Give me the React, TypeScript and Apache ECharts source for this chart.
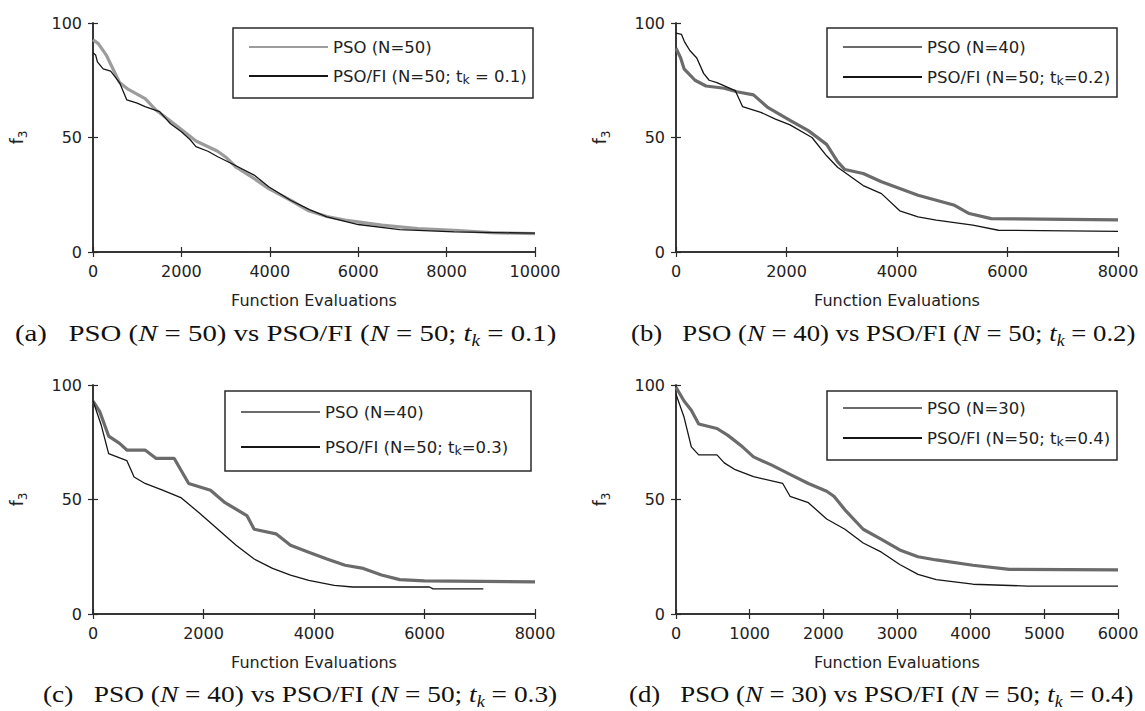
import React, { useEffect, useRef } from "react";
import * as echarts from "echarts";

// ---------- data (function evaluations, f3) ----------
const psoA = [[0,92.7],[120,91],[300,86],[450,80],[600,74],[800,71],[1180,67],[1424,62],[1700,58],[2000,53.5],[2330,48.5],[2820,44],[3000,41.5],[3240,37],[3650,32],[3975,27.7],[4470,22.6],[4880,18],[5290,15.5],[5700,13.9],[6530,11.7],[7350,10.2],[8170,9.5],[9000,8.5],[10000,8]];
const fiA = [[0,87],[60,86],[100,83],[230,80],[400,79],[600,74],[765,66.4],[1000,65],[1177,63.5],[1506,61.3],[1753,56],[2000,52.5],[2200,49],[2329,46],[2600,44],[2823,41.6],[3200,38],[3646,33.6],[3975,28.5],[4469,22.6],[4900,18.5],[5292,15.3],[6000,12],[6938,9.8],[8173,8.8],[10000,8.2]];

const psoB = [[0,89],[80,85],[146,80],[344,75],[543,72.5],[873,71.5],[1100,70],[1403,68.6],[1667,63],[2064,57.5],[2395,53],[2726,47],[2924,39.5],[3057,36],[3388,34.3],[3719,30.7],[4050,27.7],[4380,24.8],[4711,22.6],[5042,20.4],[5307,16.8],[5704,14.6],[8000,14]];
const fiB = [[0,95.6],[100,95],[150,92],[250,88],[376,84.7],[500,78],[600,75],[741,74],[1072,70.5],[1204,63.5],[1535,61],[1800,58],[2064,55.5],[2461,50],[2726,42],[2924,37],[3388,29],[3719,25.5],[4050,18],[4380,15.3],[4711,13.9],[5373,11.7],[5836,9.5],[8000,9]];

const psoC = [[0,93],[120,88.5],[283,77.7],[481,74.5],[612,71.6],[942,71.6],[1139,68],[1468,68],[1732,57],[2127,54],[2390,48.6],[2785,43],[2917,37],[3312,35],[3575,30],[3905,27],[4234,24],[4563,21.3],[4892,19.9],[5221,17],[5551,15],[6000,14.5],[8000,14]];
const fiC = [[0,93],[150,82.4],[283,70],[612,67],[744,59.8],[942,57],[1270,54],[1600,50.7],[1930,44],[2260,37],[2590,30],[2917,24],[3250,19.9],[3575,17],[3905,14.7],[4366,12.5],[4700,11.8],[6090,11.8],[6155,11],[7065,11]];

const psoD = [[0,99],[109,93],[208,89],[308,83],[556,81],[705,78],[903,73],[1052,68.6],[1300,65],[1548,61],[1797,57],[2045,53.6],[2144,51.4],[2293,45.5],[2541,37],[2789,32.6],[3037,28],[3285,25],[3533,23.6],[4030,21.3],[4526,19.5],[6000,19.3]];
const fiD = [[0,96],[109,86],[208,73],[308,69.5],[556,69.5],[655,66],[804,63],[1052,60],[1449,57],[1548,51.4],[1797,48.6],[2045,41.5],[2293,37],[2541,31],[2789,27],[3037,21.6],[3285,17.3],[3533,15],[4030,13],[4774,12.2],[6000,12.2]];

const psoNames = ["PSO (N=50)", "PSO (N=40)", "PSO (N=40)", "PSO (N=30)"];
const fiNames = ["PSO/FI (N=50; tk = 0.1)", "PSO/FI (N=50; tk=0.2)", "PSO/FI (N=50; tk=0.3)", "PSO/FI (N=50; tk=0.4)"];
const xMax = [10000, 8000, 8000, 6000];
const xInterval = [2000, 2000, 2000, 1000];
const yTicks = [0, 50, 100];
const captionLetters = ["(a)", "(b)", "(c)", "(d)"];
const captionPso = ["50", "40", "40", "30"];
const captionTk = ["0.1", "0.2", "0.3", "0.4"];

const psoData = [psoA, psoB, psoC, psoD];
const fiData = [fiA, fiB, fiC, fiD];

// ---------- layout ----------
const SANS = "DejaVu Sans";
const SERIF = "Liberation Serif";
const grids = [
  { left: 93, top: 23, width: 442, height: 229 },
  { left: 676, top: 23, width: 442, height: 229 },
  { left: 93, top: 385, width: 442, height: 229 },
  { left: 676, top: 385, width: 442, height: 229 },
];
const legendPos = [
  { left: 248, top: 37, gap: 9 },
  { left: 842, top: 37, gap: 10 },
  { left: 240, top: 402, gap: 15 },
  { left: 842, top: 398, gap: 10 },
];
const legendBoxes = [
  { x: 233, y: 28, w: 300, h: 70 },
  { x: 827, y: 28, w: 290, h: 69 },
  { x: 225, y: 391, w: 306, h: 80 },
  { x: 827, y: 391, w: 290, h: 69 },
];
const captionPos = [
  { x: 15, y: 333, sx: 1.2 },
  { x: 631, y: 333, sx: 1.115 },
  { x: 43, y: 694, sx: 1.14 },
  { x: 629, y: 694, sx: 1.115 },
];
const psoColors = ["#9c9c9c", "#6b6b6b", "#6b6b6b", "#6b6b6b"];

const AX = "#2a2a2a";
const TXT = "#222";

function buildOption() {
  const xAxis: any[] = [];
  const yAxis: any[] = [];
  const series: any[] = [];
  const legend: any[] = [];
  const graphic: any[] = [];
  const plain = (v: number) => String(v);

  grids.forEach((g, i) => {
    xAxis.push({
      type: "value", gridIndex: i, min: 0, max: xMax[i], interval: xInterval[i],
      position: "bottom",
      name: "Function Evaluations", nameLocation: "middle", nameGap: 40,
      nameTextStyle: { fontFamily: SANS, fontSize: 16, color: TXT },
      axisLine: { show: true, lineStyle: { color: AX, width: 1.5 } },
      axisTick: { show: true, inside: true, length: 5, lineStyle: { color: AX, width: 1.2 } },
      axisLabel: { show: true, margin: 11, fontFamily: SANS, fontSize: 16, color: TXT, formatter: plain },
      splitLine: { show: false },
    });
    xAxis.push({
      type: "value", gridIndex: i, min: 0, max: xMax[i], interval: xInterval[i],
      position: "top",
      axisLine: { show: true, lineStyle: { color: AX, width: 1.5 } },
      axisTick: { show: true, inside: true, length: 5, lineStyle: { color: AX, width: 1.2 } },
      axisLabel: { show: false },
      splitLine: { show: false },
    });
    yAxis.push({
      type: "value", gridIndex: i, min: yTicks[0], max: yTicks[yTicks.length - 1], interval: 50,
      position: "left",
      name: "{f|f}{s|3}", nameLocation: "middle", nameGap: 64, nameRotate: 90,
      nameTextStyle: {
        fontFamily: SANS, fontSize: 16, color: TXT,
        rich: {
          f: { fontFamily: SANS, fontSize: 17, color: TXT, lineHeight: 24 },
          s: { fontFamily: SANS, fontSize: 12, color: TXT, lineHeight: 12, verticalAlign: "bottom" },
        },
      },
      axisLine: { show: true, lineStyle: { color: AX, width: 1.5 } },
      axisTick: { show: true, inside: true, length: 5, lineStyle: { color: AX, width: 1.2 } },
      axisLabel: { show: true, margin: 11, fontFamily: SANS, fontSize: 16, color: TXT, formatter: plain },
      splitLine: { show: false },
    });
    yAxis.push({
      type: "value", gridIndex: i, min: 0, max: 100, interval: 50,
      position: "right",
      axisLine: { show: true, lineStyle: { color: AX, width: 1.5 } },
      axisTick: { show: true, inside: true, length: 5, lineStyle: { color: AX, width: 1.2 } },
      axisLabel: { show: false },
      splitLine: { show: false },
    });

    series.push({
      type: "line", name: psoNames[i], xAxisIndex: i * 2, yAxisIndex: i * 2,
      data: psoData[i], symbol: "none", z: 2,
      lineStyle: { color: psoColors[i], width: 3.2 }, itemStyle: { color: psoColors[i] },
    });
    series.push({
      type: "line", name: fiNames[i], xAxisIndex: i * 2, yAxisIndex: i * 2,
      data: fiData[i], symbol: "none", z: 3,
      lineStyle: { color: "#161616", width: 1.3 }, itemStyle: { color: "#161616" },
    });

    const lp = legendPos[i];
    legend.push({
      orient: "vertical", left: lp.left, top: lp.top, padding: 0,
      itemWidth: 79, itemHeight: 20, itemGap: lp.gap,
      data: [psoNames[i], fiNames[i]],
      selectedMode: false, z: 10,
      itemStyle: { opacity: 0 },
      textStyle: {
        fontFamily: SANS, fontSize: 16.5, color: TXT, lineHeight: 20,
        rich: {
          n: { fontFamily: SANS, fontSize: 16.5, color: TXT, lineHeight: 20 },
          s: { fontFamily: SANS, fontSize: 12.5, color: TXT, lineHeight: 13, verticalAlign: "bottom" },
        },
      },
      formatter: (name: string) => {
        const k = name.indexOf("tk");
        if (k < 0) return `{n|${name}}`;
        return `{n|${name.slice(0, k)}t}{s|k}{n|${name.slice(k + 2)}}`;
      },
    });

    const b = legendBoxes[i];
    graphic.push({
      type: "rect", z: 8,
      shape: { x: b.x, y: b.y, width: b.w, height: b.h },
      style: { fill: "#fff", stroke: AX, lineWidth: 1.5 },
    });

    const c = captionPos[i];
    const rr = (f: string) => ({ fontFamily: SERIF, fontSize: 24, fill: "#111", color: "#111", fontStyle: f, lineHeight: 32 });
    graphic.push({
      type: "text", z: 8, x: c.x, y: c.y, scaleX: c.sx,
      style: {
        text: `{r|${captionLetters[i]}   PSO (}{i|N}{r| = ${captionPso[i]}) vs PSO/FI (}{i|N}{r| = 50; }{i|t}{s|k}{r| = ${captionTk[i]})}`,
        verticalAlign: "middle", align: "left",
        fontFamily: SERIF, fontSize: 24, fill: "#111",
        rich: {
          r: rr("normal"),
          i: rr("italic"),
          s: { fontFamily: SERIF, fontSize: 16, fill: "#111", color: "#111", fontStyle: "italic", lineHeight: 16, verticalAlign: "bottom" },
        },
      },
    });
  });

  return {
    animation: false,
    backgroundColor: "#ffffff",
    grid: grids.map((g) => ({ ...g, containLabel: false, show: false })),
    xAxis, yAxis, series, legend, graphic,
  };
}

export default function App() {
  const ref = useRef<HTMLDivElement>(null);
  useEffect(() => {
    if (!ref.current) return;
    const chart = echarts.init(ref.current, null, { renderer: "svg" });
    chart.setOption(buildOption());
    return () => chart.dispose();
  }, []);
  return <div ref={ref} style={{ width: 1145, height: 711, position: "absolute", left: 0, top: 0 }} />;
}
